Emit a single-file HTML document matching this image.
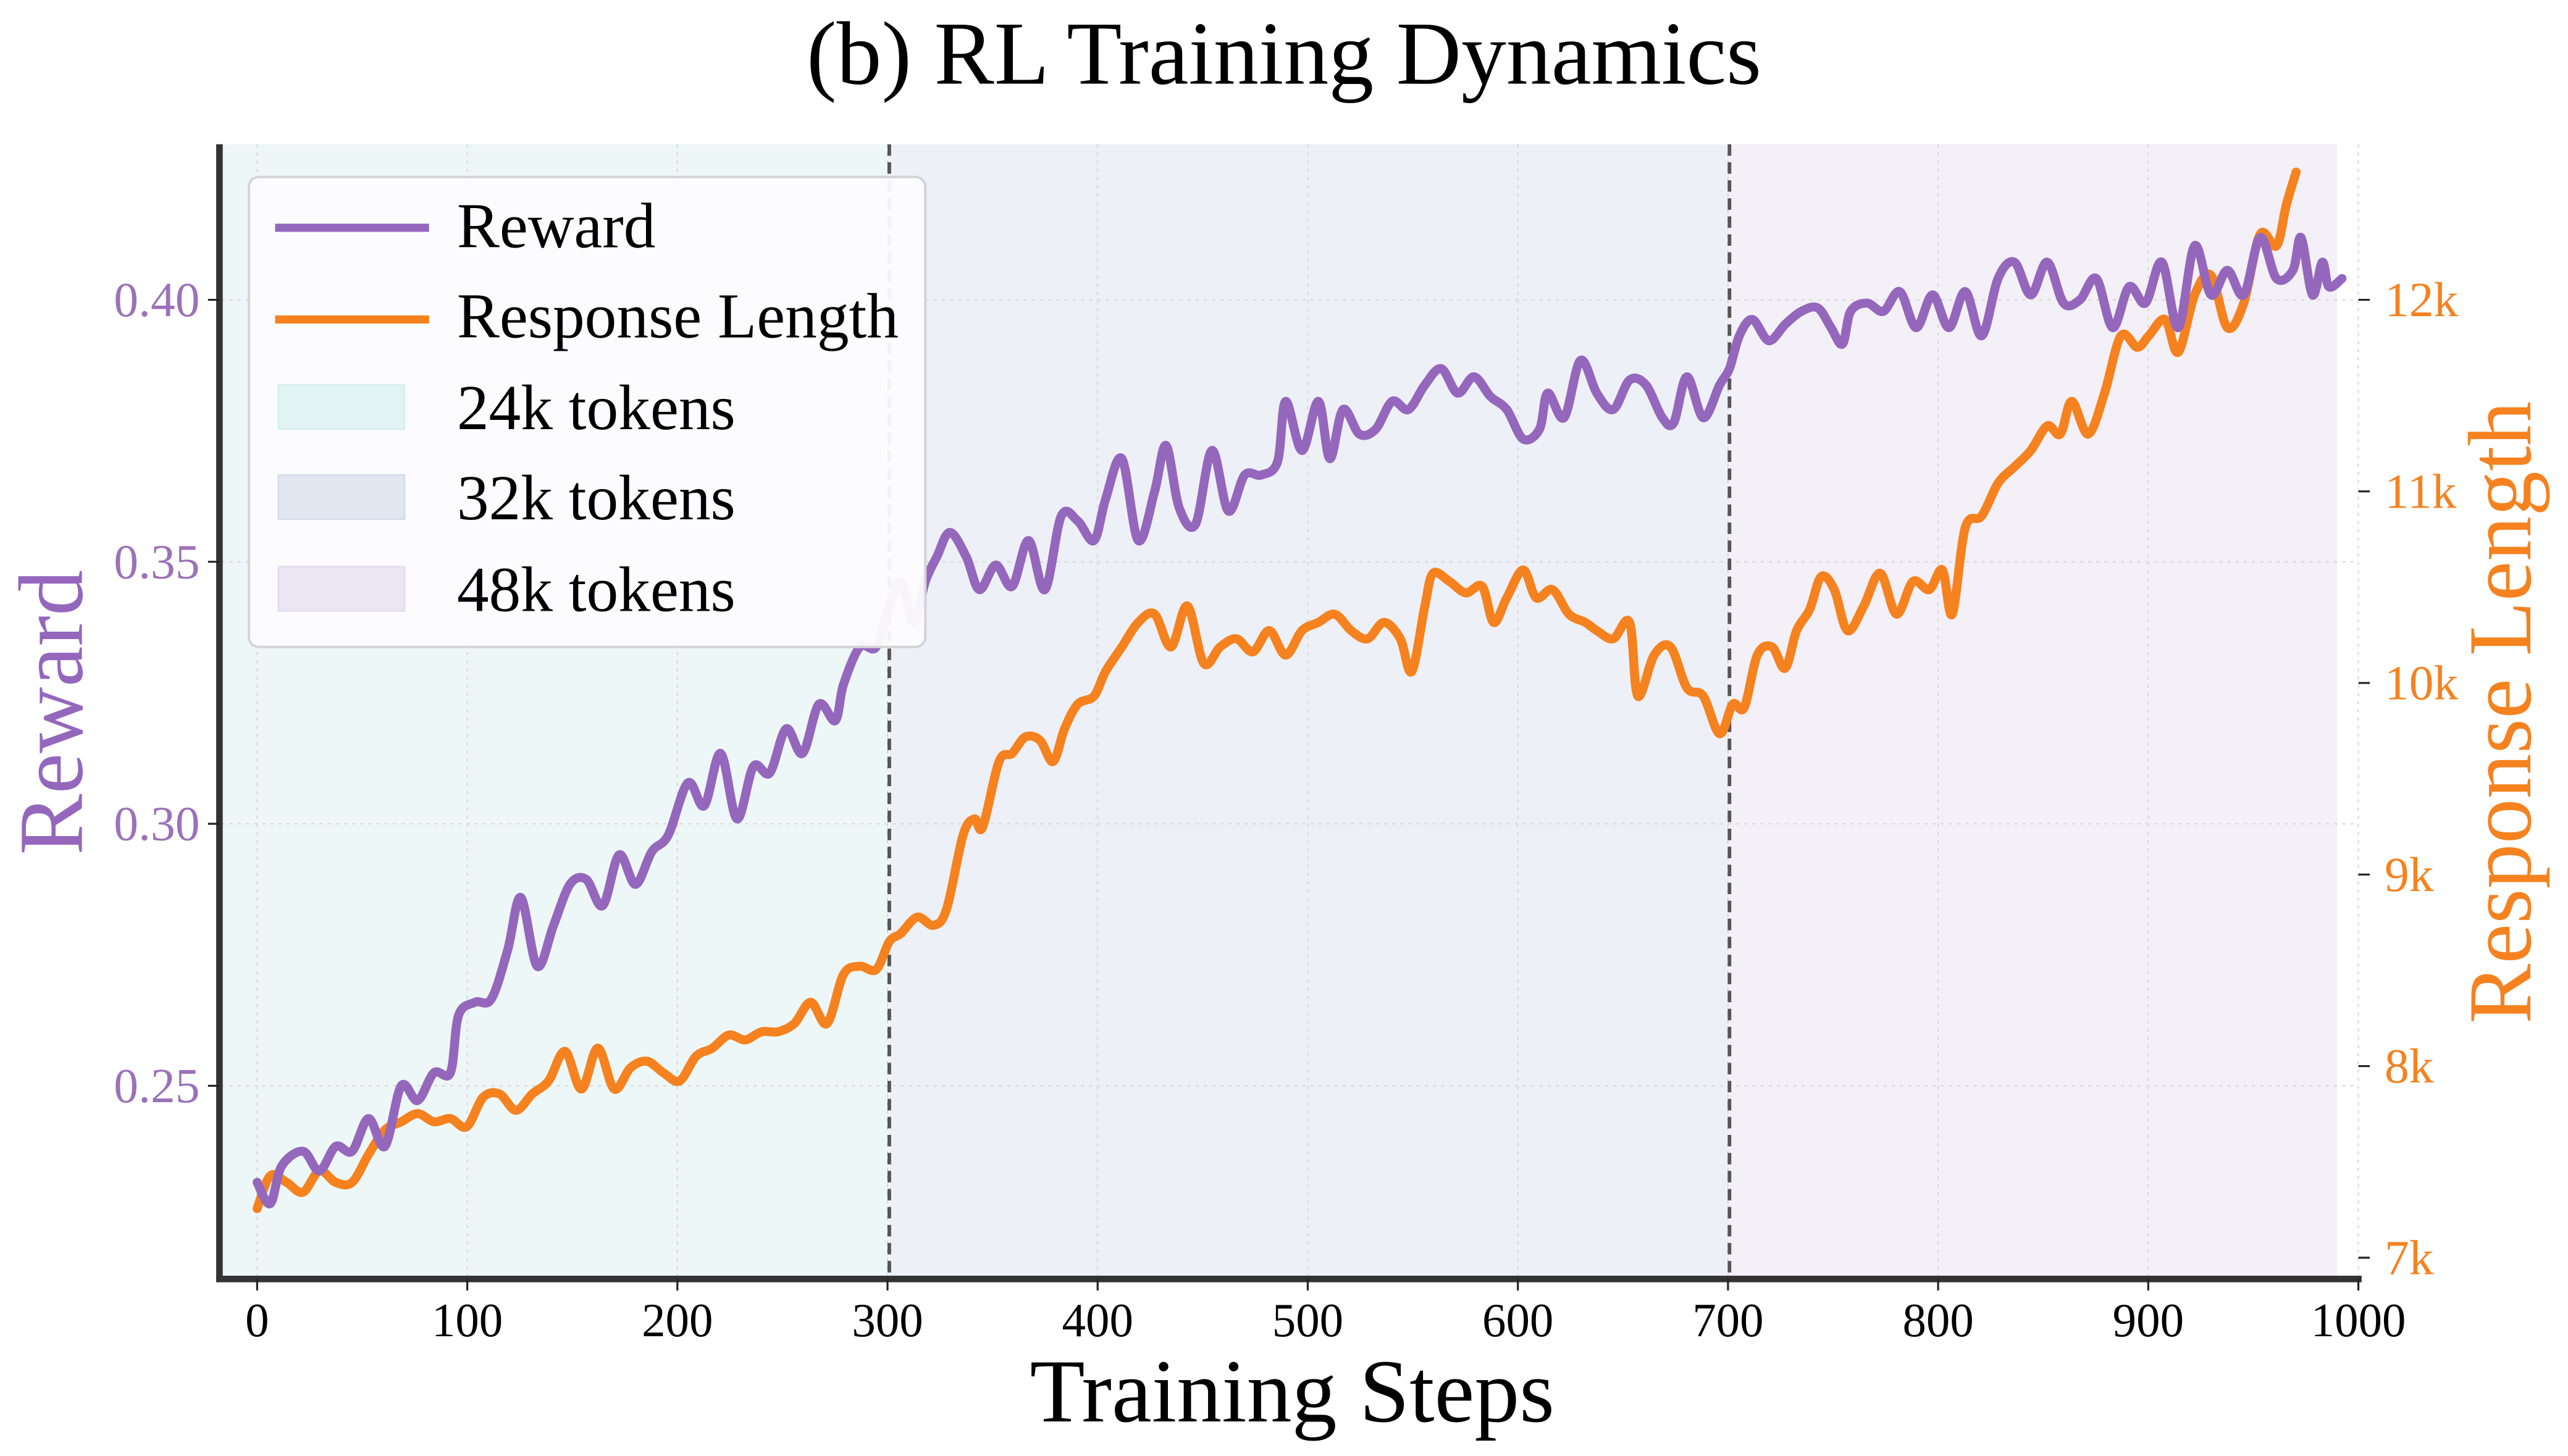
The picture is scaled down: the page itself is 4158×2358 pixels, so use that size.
<!DOCTYPE html>
<html><head><meta charset="utf-8"><style>html,body{margin:0;padding:0;background:#fff}svg{display:block}</style></head>
<body>
<svg id="s" width="4158" height="2358" viewBox="0 0 1568 889" xmlns="http://www.w3.org/2000/svg" font-family="'Liberation Serif', serif">
<rect width="1568" height="889" fill="#fff"/>
<rect x="135" y="88" width="408" height="692" fill="#eef7f7"/>
<rect x="543" y="88" width="513" height="692" fill="#eef0f7"/>
<rect x="1056" y="88" width="371" height="692" fill="#f3f0f8"/>
<g stroke="#d8d8d8" stroke-width="0.8" stroke-dasharray="2,3">
<line x1="157" y1="88" x2="157" y2="780"/><line x1="285.3" y1="88" x2="285.3" y2="780"/><line x1="413.6" y1="88" x2="413.6" y2="780"/><line x1="541.9" y1="88" x2="541.9" y2="780"/><line x1="670.2" y1="88" x2="670.2" y2="780"/><line x1="798.5" y1="88" x2="798.5" y2="780"/><line x1="926.8" y1="88" x2="926.8" y2="780"/><line x1="1055.1" y1="88" x2="1055.1" y2="780"/><line x1="1183.4" y1="88" x2="1183.4" y2="780"/><line x1="1311.7" y1="88" x2="1311.7" y2="780"/><line x1="1440" y1="88" x2="1440" y2="780"/>
<line x1="135" y1="183" x2="1440" y2="183"/><line x1="135" y1="343" x2="1440" y2="343"/><line x1="135" y1="503" x2="1440" y2="503"/><line x1="135" y1="663" x2="1440" y2="663"/>
</g>
<g stroke="#555" stroke-width="2.2" stroke-dasharray="7,4">
<line x1="543" y1="88" x2="543" y2="780"/><line x1="1056" y1="88" x2="1056" y2="780"/>
</g>
<polyline class="sm" fill="none" stroke="#f5821f" stroke-width="5.5" stroke-linejoin="round" stroke-linecap="round" points="157,738 165,718 175,722 185,728 195,715 205,722 215,722 225,705 235,690 245,685 255,680 265,685 275,683 285,688 295,670 305,668 315,678 325,668 335,660 345,642 355,665 365,640 375,665 385,652 395,648 405,655 415,660 425,645 435,640 445,632 455,635 465,630 475,630 485,625 495,612 505,625 515,595 525,590 535,592 543,575 550,570 560,560 570,565 578,555 588,510 595,500 600,505 610,465 618,460 626,450 635,452 643,465 650,445 658,430 668,425 675,410 685,395 695,380 705,375 715,395 725,370 735,405 745,395 755,390 765,398 775,385 785,400 795,385 805,380 815,375 825,385 835,390 845,380 855,390 862,410 870,370 875,350 885,355 895,362 905,358 912,380 920,365 930,348 938,365 948,360 958,375 968,380 975,385 985,390 995,380 1000,425 1010,400 1020,395 1030,420 1040,425 1050,448 1058,430 1065,432 1073,400 1082,395 1090,408 1097,385 1105,372 1112,352 1120,360 1128,385 1138,370 1148,350 1158,375 1168,355 1178,360 1186,348 1192,375 1200,322 1210,315 1220,295 1230,285 1240,275 1250,260 1258,265 1265,245 1275,265 1285,240 1295,205 1305,212 1312,205 1322,195 1330,215 1340,180 1350,168 1360,200 1370,185 1380,143 1390,150 1396,125 1402,105"/>
<polyline class="sm" fill="none" stroke="#9467bd" stroke-width="5.5" stroke-linejoin="round" stroke-linecap="round" points="157,722 165,735 172,712 185,703 195,715 205,700 215,703 225,683 235,700 245,663 255,672 265,655 275,655 280,620 290,612 300,610 310,580 318,548 328,590 338,565 348,540 358,537 368,553 378,522 388,540 398,520 408,510 420,478 430,492 440,460 450,500 460,468 470,472 480,445 490,460 500,430 510,440 515,418 525,395 535,395 543,370 550,355 558,380 565,355 572,340 580,325 590,340 598,360 608,345 618,358 628,330 638,360 648,315 658,318 668,330 675,305 685,280 695,330 705,300 712,272 720,310 730,320 740,275 750,312 760,290 770,290 780,282 785,245 795,275 805,245 812,280 820,250 830,265 840,262 850,245 860,250 870,235 880,225 890,240 900,230 910,242 920,250 930,268 940,262 945,240 955,255 965,220 975,240 985,250 995,232 1005,235 1015,255 1022,258 1030,230 1040,255 1050,235 1056,225 1062,205 1070,195 1080,208 1090,198 1100,190 1110,188 1118,200 1125,210 1130,190 1140,185 1150,190 1160,178 1170,200 1180,180 1190,200 1200,178 1210,205 1220,170 1230,160 1240,180 1250,160 1260,185 1270,183 1280,170 1290,200 1300,175 1310,185 1320,160 1330,200 1340,150 1350,180 1360,165 1370,180 1380,145 1390,170 1400,165 1405,145 1412,180 1418,160 1422,175 1430,170"/>
<line x1="134" y1="88" x2="134" y2="783" stroke="#333" stroke-width="4"/>
<line x1="132" y1="781" x2="1442" y2="781" stroke="#333" stroke-width="4"/>
<g stroke="#222" stroke-width="1.2">
<line x1="157" y1="781" x2="157" y2="788"/><line x1="285.3" y1="781" x2="285.3" y2="788"/><line x1="413.6" y1="781" x2="413.6" y2="788"/><line x1="541.9" y1="781" x2="541.9" y2="788"/><line x1="670.2" y1="781" x2="670.2" y2="788"/><line x1="798.5" y1="781" x2="798.5" y2="788"/><line x1="926.8" y1="781" x2="926.8" y2="788"/><line x1="1055.1" y1="781" x2="1055.1" y2="788"/><line x1="1183.4" y1="781" x2="1183.4" y2="788"/><line x1="1311.7" y1="781" x2="1311.7" y2="788"/><line x1="1440" y1="781" x2="1440" y2="788"/>
<line x1="127" y1="183" x2="134" y2="183"/><line x1="127" y1="343" x2="134" y2="343"/><line x1="127" y1="503" x2="134" y2="503"/><line x1="127" y1="663" x2="134" y2="663"/>
<line x1="1440" y1="768" x2="1447" y2="768"/><line x1="1440" y1="651" x2="1447" y2="651"/><line x1="1440" y1="534" x2="1447" y2="534"/><line x1="1440" y1="417" x2="1447" y2="417"/><line x1="1440" y1="300" x2="1447" y2="300"/><line x1="1440" y1="183" x2="1447" y2="183"/>
</g>
<g font-size="29" fill="#000" text-anchor="middle">
<text x="157" y="816">0</text><text x="285.3" y="816">100</text><text x="413.6" y="816">200</text><text x="541.9" y="816">300</text><text x="670.2" y="816">400</text><text x="798.5" y="816">500</text><text x="926.8" y="816">600</text><text x="1055.1" y="816">700</text><text x="1183.4" y="816">800</text><text x="1311.7" y="816">900</text><text x="1440" y="816">1000</text>
</g>
<g font-size="30" fill="#9b72b8" text-anchor="end">
<text x="122" y="193">0.40</text><text x="122" y="353">0.35</text><text x="122" y="513">0.30</text><text x="122" y="673">0.25</text>
</g>
<g font-size="30" fill="#f5821f">
<text x="1456" y="778">7k</text><text x="1456" y="661">8k</text><text x="1456" y="544">9k</text><text x="1456" y="427">10k</text><text x="1456" y="310">11k</text><text x="1456" y="193">12k</text>
</g>
<text x="784" y="51" font-size="55" text-anchor="middle" fill="#000">(b) RL Training Dynamics</text>
<text x="789" y="868" font-size="55" text-anchor="middle" fill="#000">Training Steps</text>
<text transform="translate(50,435) rotate(-90)" font-size="56" text-anchor="middle" fill="#9467bd">Reward</text>
<text transform="translate(1545,435) rotate(-90)" font-size="55" text-anchor="middle" fill="#f5821f">Response Length</text>
<rect x="152" y="108" width="413" height="287" rx="6" fill="#fcfcfe" fill-opacity="0.95" stroke="#d4d4d4" stroke-width="1.5"/>
<line x1="168" y1="139" x2="262" y2="139" stroke="#9467bd" stroke-width="5"/>
<line x1="168" y1="195" x2="262" y2="195" stroke="#f5821f" stroke-width="5"/>
<rect x="170" y="235" width="77" height="27" fill="#e1f4f3" stroke="#d6eeee"/>
<rect x="170" y="290" width="77" height="27" fill="#e1e6f1" stroke="#d6dcec"/>
<rect x="170" y="346" width="77" height="27" fill="#ece6f4" stroke="#e3dcf0"/>
<g font-size="39" fill="#000">
<text x="279" y="151">Reward</text><text x="279" y="206">Response Length</text><text x="279" y="262">24k tokens</text><text x="279" y="317">32k tokens</text><text x="279" y="373">48k tokens</text>
</g>
</svg>
<script>
document.querySelectorAll('polyline.sm').forEach(function(pl){
  var p=pl.getAttribute('points').trim().split(/\s+/).map(function(s){return s.split(',').map(Number);});
  var d='M'+p[0][0]+','+p[0][1];
  for(var i=0;i<p.length-1;i++){
    var p0=p[i-1]||p[i],p1=p[i],p2=p[i+1],p3=p[i+2]||p2;
    var c1x=p1[0]+(p2[0]-p0[0])/6,c1y=p1[1]+(p2[1]-p0[1])/6;
    var c2x=p2[0]-(p3[0]-p1[0])/6,c2y=p2[1]-(p3[1]-p1[1])/6;
    d+=' C'+c1x.toFixed(1)+','+c1y.toFixed(1)+' '+c2x.toFixed(1)+','+c2y.toFixed(1)+' '+p2[0]+','+p2[1];
  }
  var path=document.createElementNS('http://www.w3.org/2000/svg','path');
  ['fill','stroke','stroke-width','stroke-linejoin','stroke-linecap'].forEach(function(a){path.setAttribute(a,pl.getAttribute(a));});
  path.setAttribute('d',d);
  pl.parentNode.replaceChild(path,pl);
});
</script>
</body></html>
